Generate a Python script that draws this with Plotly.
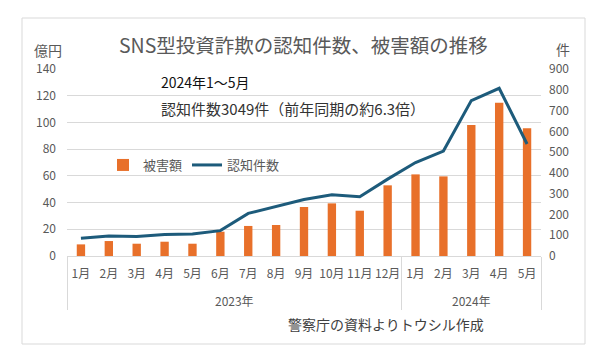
import plotly.graph_objects as go

years = ["2023年"] * 12 + ["2024年"] * 5
months = ["1月", "2月", "3月", "4月", "5月", "6月", "7月", "8月", "9月", "10月", "11月", "12月",
          "1月", "2月", "3月", "4月", "5月"]
damage = [8.7, 11.2, 9.2, 10.7, 9.2, 18.2, 22.5, 23.2, 36.7, 39.4, 33.9, 52.9,
          61.1, 59.6, 98.0, 114.8, 95.6]
cases = [85, 96, 94, 104, 106, 122, 205, 240, 272, 295, 285, 370,
         450, 505, 748, 807, 539]

FONT = "Noto Sans CJK JP"
GRAY = "#595959"
BAR = "#e8702a"
LINE = "#1d5b7b"

year_labels = ["<br>" + y for y in years]

fig = go.Figure()
fig.add_trace(go.Bar(x=[year_labels, months], y=damage, name="被害額", marker_color=BAR,
                     marker_line_width=0))
fig.add_trace(go.Scatter(x=[year_labels, months], y=cases, name="認知件数", yaxis="y2",
                         mode="lines", line=dict(color=LINE, width=3)))

OFF = 8  # page body margin in the browser
W, H = 600, 356
X0, X1, Y0, Y1 = 67, 541, 69, 256  # plot area in screenshot pixels
L = X0 - OFF
T = Y0 - OFF
R = W - (X1 - OFF)
B = H - (Y1 - OFF)
pw, ph = X1 - X0, Y1 - Y0

def px(x):
    return (x - X0) / pw

def py(y):
    return (Y1 - y) / ph

fig.update_layout(
    width=W, height=H,
    margin=dict(l=L, r=R, t=T, b=B, autoexpand=False),
    paper_bgcolor="white", plot_bgcolor="white",
    font=dict(family=FONT, color=GRAY, size=12),
    bargap=0.7,
    showlegend=True,
    legend=dict(orientation="h", x=px(103), y=py(165), xanchor="left", yanchor="middle",
                font=dict(size=13, color=GRAY), bgcolor="rgba(0,0,0,0)",
                traceorder="normal", itemwidth=30),
    xaxis=dict(type="multicategory", showline=True, linecolor="#d9d9d9", linewidth=1,
               dividercolor="#d9d9d9", dividerwidth=1, showdividers=True,
               tickangle=0, automargin=False, ticks="", ticklabelstandoff=7,
               tickfont=dict(size=12, color=GRAY), showgrid=False),
    yaxis=dict(range=[0, 140], dtick=20, showgrid=True, gridcolor="#d9d9d9", gridwidth=1,
               zeroline=False, showline=False, tickfont=dict(size=12, color=GRAY),
               ticks="", ticklabelstandoff=10, automargin=False),
    yaxis2=dict(range=[0, 900], dtick=100, overlaying="y", side="right", showgrid=False,
                zeroline=False, showline=False, tickfont=dict(size=12, color=GRAY),
                ticks="", ticklabelstandoff=7, automargin=False),
    shapes=[dict(type="rect", xref="paper", yref="paper",
                 x0=px(22), x1=px(585), y0=py(344), y1=py(18),
                 line=dict(color="#d9d9d9", width=1), fillcolor="rgba(0,0,0,0)", layer="below")],
    annotations=[
        dict(text="SNS型投資詐欺の認知件数、被害額の推移", xref="paper", yref="paper",
             x=px(303), y=py(45), xanchor="center", yanchor="middle", showarrow=False,
             font=dict(size=19.5, color=GRAY, family=FONT)),
        dict(text="億円", xref="paper", yref="paper", x=px(48), y=py(50),
             xanchor="center", yanchor="middle", showarrow=False,
             font=dict(size=14, color=GRAY, family=FONT)),
        dict(text="件", xref="paper", yref="paper", x=px(563), y=py(49),
             xanchor="center", yanchor="middle", showarrow=False,
             font=dict(size=14, color=GRAY, family=FONT)),
        dict(text="2024年1～5月", xref="paper", yref="paper", x=px(159), y=py(82),
             xanchor="left", yanchor="middle", showarrow=False,
             font=dict(size=14, color="#111111", family=FONT)),
        dict(text="認知件数3049件（前年同期の約6.3倍）", xref="paper", yref="paper",
             x=px(159), y=py(108), xanchor="left", yanchor="middle", showarrow=False,
             font=dict(size=15, color="#333333", family=FONT)),
        dict(text="警察庁の資料よりトウシル作成", xref="paper", yref="paper",
             x=px(486), y=py(324), xanchor="right", yanchor="middle", showarrow=False,
             font=dict(size=14, color="#404040", family=FONT)),
    ],
)

fig.write_html("out.html")
